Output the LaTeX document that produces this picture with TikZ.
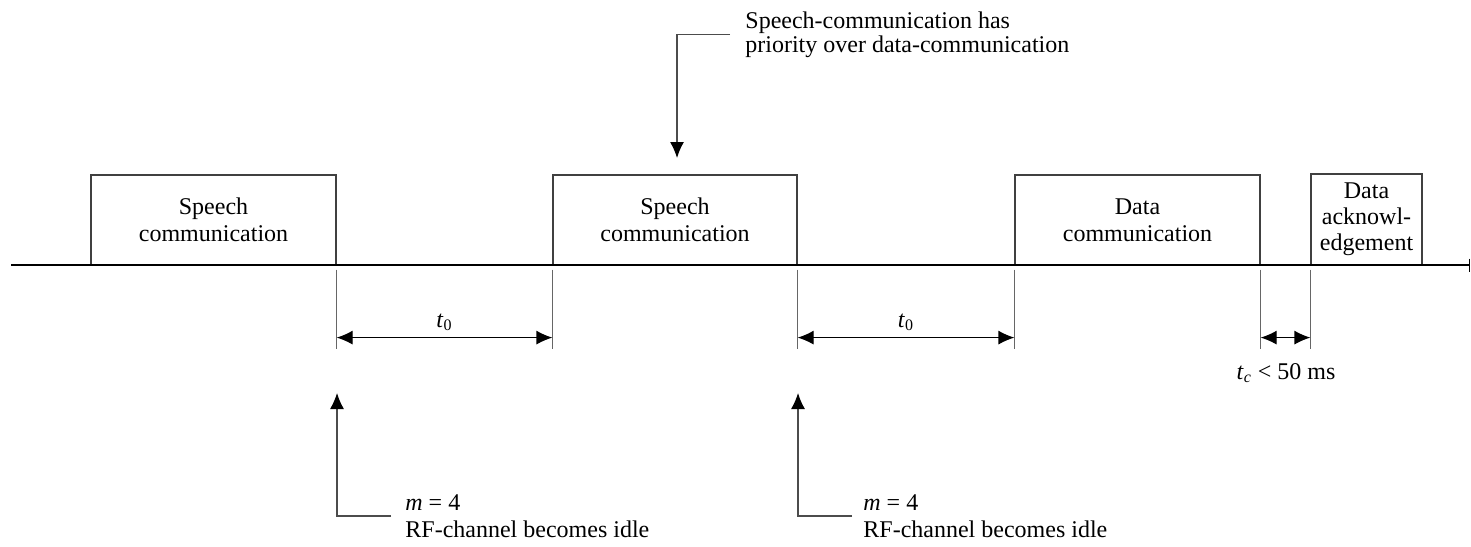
\documentclass[tikz,border=0pt]{standalone}
\usepackage{fontspec}
\setmainfont{Liberation Serif}
\usetikzlibrary{arrows.meta,calc}

\begin{document}
\begin{tikzpicture}[x=0.5pt,y=-0.5pt,
  every node/.style={font=\fontsize{12}{13.5}\selectfont, inner sep=0pt},
  slot/.style={draw=black!75, line width=0.6pt, minimum height=45pt, align=center},
  axisline/.style={line width=1.25pt, -{Bar[width=6.5pt,line width=0.7pt]}},
  extline/.style={draw=black!60, line width=0.65pt},
  tip/.style={Latex[length=8pt,width=7pt]},
  dimarrow/.style={line width=0.6pt, {Latex[length=8pt,width=7pt]}-{Latex[length=8pt,width=7pt]}},
  callarrow/.style={draw=black!70, line width=0.6pt, -{Latex[length=8pt,width=7pt,fill=black,color=black]}},
  note/.style={align=left, anchor=north west}]
\useasboundingbox (0,0) rectangle (1471,546);

% transmission slots on the RF channel
\node[slot, minimum width=122.5pt] (s1) at (213.5,220) {Speech\\communication};
\node[slot, minimum width=122pt]   (s2) at (675,220)   {Speech\\communication};
\node[slot, minimum width=122.5pt] (d1) at (1137.5,220) {Data\\communication};
\node[slot, minimum width=55.5pt, minimum height=45.5pt, font=\fontsize{12}{13}\selectfont] (ack) at (1366.5,219.5) {Data\\acknowl-\\edgement};

% time axis
\coordinate (ax0) at (11,265);
\coordinate (ax1) at (1470,265);
\draw[axisline] (ax0) -- (ax1);

% extension lines below the axis
\foreach \a/\n in {s1.south east/e1, s2.south west/e2, s2.south east/e3, d1.south west/e4, d1.south east/e5, ack.south west/e6}{
  \coordinate (\n top) at ($(\a)+(0,4)$);
  \coordinate (\n bot) at ($(\a)+(0,83)$);
  \coordinate (\n) at ($(\a)+(0,72)$);
  \draw[extline] (\n top) -- (\n bot);
}

% time intervals
\draw[dimarrow] (e1) -- (e2);
\draw[dimarrow] (e3) -- (e4);
\draw[dimarrow] (e5) -- (e6);
\node[anchor=base] (t0a) at (444.5,327) {\textit{t}\textsubscript{0}};
\node[anchor=base] (t0b) at (906,327) {\textit{t}\textsubscript{0}};
\node[anchor=base] (tc) at (1286,379) {\textit{t}\textsubscript{\textit{c}} < 50 ms};

% priority remark
\node[note, font=\fontsize{12}{12}\selectfont] (prio) at (745,11.5) {Speech-communication has\\priority over data-communication};
\coordinate (prioTip) at (677,158);
\draw[callarrow] ([xshift=-7.5pt]prio.west) -| (prioTip);

% channel idle remarks
\node[note] (idle1) at (405,494) {\textit{m} = 4\\RF-channel becomes idle};
\node[note] (idle2) at (863,494) {\textit{m} = 4\\RF-channel becomes idle};
\coordinate (idle1Tip) at (337,393);
\coordinate (idle2Tip) at (798,393);
\draw[callarrow] ([xshift=-7pt]idle1.west) -| (idle1Tip);
\draw[callarrow] ([xshift=-5.5pt]idle2.west) -| (idle2Tip);
\end{tikzpicture}
\end{document}
